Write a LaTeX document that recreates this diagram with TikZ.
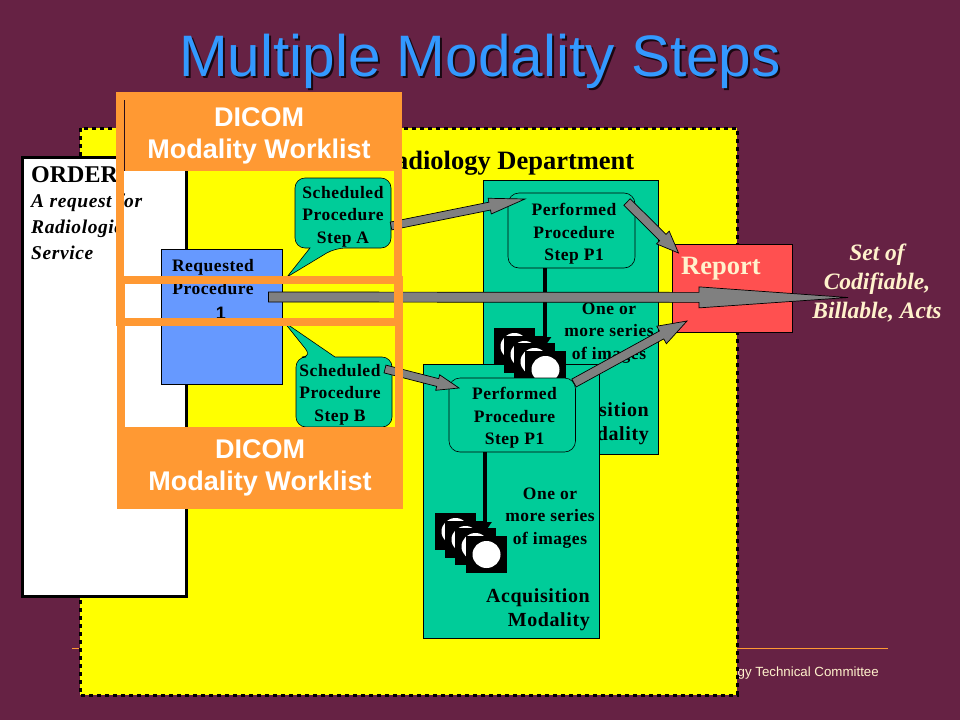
\documentclass[tikz,border=0pt]{standalone}
\usepackage{fontspec}
\setmainfont{Liberation Serif}
\newfontfamily\headfont{Liberation Sans}
\newfontfamily\labelfont[LetterSpace=3]{Liberation Serif}
\usepackage{xcolor}
\usepackage{tikz}
\usetikzlibrary{arrows.meta,calc}

\definecolor{slidebg}{HTML}{662244}
\definecolor{deptyellow}{HTML}{FFFF00}
\definecolor{worklistorange}{HTML}{FF9933}
\definecolor{stepgreen}{HTML}{00CC99}
\definecolor{procblue}{HTML}{6699FF}
\definecolor{reportred}{HTML}{FF5050}
\definecolor{titleblue}{HTML}{3399FF}
\definecolor{cream}{HTML}{FFF2CC}
\definecolor{arrowgray}{HTML}{808080}

\tikzset{
	modalitybox/.style={draw=black, fill=stepgreen, line width=.8pt},
	performedbox/.style={draw=black, fill=stepgreen, line width=.6pt, rounded corners=11pt},
	calloutbody/.style={draw=black, fill=stepgreen, line width=.6pt},
	flowshape/.style={draw=black, fill=arrowgray, line width=.7pt},
	serieslink/.style={draw=black, line width=4pt, -{Triangle[width=13pt,length=10pt]}},
	imagecard/.style={fill=black, inner sep=0pt, minimum width=41pt, minimum height=37.5pt},
	smalllabel/.style={font=\labelfont\bfseries\fontsize{17.5}{22.6}\selectfont, align=center},
	biglabel/.style={font=\labelfont\bfseries\fontsize{20}{24}\selectfont, align=right},
	worklistframe/.style={draw=worklistorange, line width=8pt},
	worklisthead/.style={text=white, inner sep=0pt, align=center, font=\headfont\bfseries\fontsize{27}{32}\selectfont}
}

% block arrow: start, tip, half shaft, head length, half head
\newcommand{\flowarrow}[5]{
	\draw[flowshape] ($(#1)!#3!90:(#2)$) -- ($(#2)!#4!(#1)!#3!90:(#2)$) -- ($(#2)!#4!(#1)!#5!90:(#2)$) -- (#2)
		-- ($(#2)!#4!(#1)!#5!-90:(#2)$) -- ($(#2)!#4!(#1)!#3!-90:(#2)$) -- ($(#1)!#3!-90:(#2)$) -- cycle;
}
% four overlapping image cards
\newcommand{\imagestack}[3]{
	\foreach \dx/\dy [count=\n] in {0/0,10/8,20/15,31/23}{
		\node[imagecard] (#1\n) at (#2+\dx,#3+\dy) {};
		\fill[white] (#1\n.center) ellipse (14pt and 13.5pt);
	}
}

\begin{document}
\begin{tikzpicture}[x=1pt, y=-1pt]
	\useasboundingbox (0,0) rectangle (960,720);
	\fill[slidebg] (0,0) rectangle (960,720);

	% title and footer
	\node[text=black!75!slidebg, font=\headfont\fontsize{58.5}{62}\selectfont] (titleshade) at (482,63) {Multiple Modality Steps};
	\node[text=titleblue, draw=none, font=\headfont\fontsize{58.5}{62}\selectfont] (title) at (480,61) {Multiple Modality Steps};
	\draw[worklistorange, line width=.8pt] (72,648.5) -- (888,648.5);
	\node[anchor=east, text=cream, inner sep=0pt, font=\headfont\fontsize{13.3}{16}\selectfont] (footer) at (879,673.5) {gy Technical Committee};

	% department
	\draw[fill=deptyellow, line width=3pt, dash pattern=on 4pt off 4pt] (80,128) rectangle (737,695);
	\node[anchor=east, inner sep=0pt, font=\bfseries\fontsize{26.5}{30}\selectfont] (radiology) at (634.5,163) {Radiology Department};

	% order
	\draw[fill=white, line width=3pt] (22,157) rectangle (186,596);
	\node[anchor=north west, inner sep=0pt, font=\bfseries\fontsize{24}{28}\selectfont] (order) at (31,166) {ORDER};
	\node[anchor=north west, inner sep=0pt, align=left, font=\labelfont\bfseries\itshape\fontsize{19.5}{26}\selectfont] (orderdesc) at (31,194) {A request for\\Radiologic\\Service};

	% requested procedure
	\draw[draw=black, fill=procblue, line width=.7pt] (161.5,249.5) rectangle (282.5,384.5);
	\node[smalllabel] (requested) at (213,289.5) {Requested\\Procedure\\[2.5pt]\hspace{16pt}{\headfont\fontsize{18}{22}\selectfont 1}};

	% scheduled steps
	\draw[calloutbody, rounded corners=10pt] (295,178) -- (391,178) -- (391,248) -- (335,248) [sharp corners] -- (287,277) -- (310,248) [rounded corners=10pt] -- (295,248) -- cycle;
	\node[smalllabel] (stepA) at (343,216.5) {Scheduled\\Procedure\\Step A};
	\draw[calloutbody, rounded corners=10pt] (296,357) -- (312,357) [sharp corners] -- (284,322) -- (335,357) [rounded corners=10pt] -- (392,357) -- (392,427) -- (296,427) -- cycle;
	\node[smalllabel] (stepB) at (340,394.5) {Scheduled\\Procedure\\Step B};

	% first modality
	\draw[modalitybox] (483,180.5) rectangle (658.5,454);
	\draw[performedbox] (508,193) rectangle (635,268);
	\node[smalllabel] (perfA) at (574,234) {Performed\\Procedure\\Step P1};
	\coordinate (linkAtop) at (544.5,268);
	\coordinate (linkAend) at (544.5,347);
	\draw[serieslink] (linkAtop) -- (linkAend);
	\node[smalllabel] (seriesA) at (609,333) {One or\\more series\\of images};
	\node[biglabel, anchor=south east, inner sep=0pt] (acqA) at (649,445) {Acquisition\\Modality};

	% second modality
	\draw[modalitybox] (423.5,364.5) rectangle (599,638);
	\imagestack{cardA}{514.5}{346.5}
	\draw[performedbox] (449,378) rectangle (575.5,452);
	\node[smalllabel] (perfB) at (514.5,418) {Performed\\Procedure\\Step P1};
	\coordinate (linkBtop) at (485,452);
	\coordinate (linkBend) at (485,532);
	\draw[serieslink] (linkBtop) -- (linkBend);
	\imagestack{cardB}{455.5}{531.5}
	\node[smalllabel] (seriesB) at (550,518) {One or\\more series\\of images};
	\node[biglabel, anchor=south east, inner sep=0pt] (acqB) at (590,631) {Acquisition\\Modality};

	% report
	\draw[draw=black, fill=reportred, line width=.7pt] (672.5,244.5) rectangle (792,332);
	\node[anchor=west, inner sep=0pt, text=cream, font=\bfseries\fontsize{26.5}{30}\selectfont] (report) at (681,269) {Report};
	\node[text=cream, align=center, font=\bfseries\itshape\fontsize{23.5}{29}\selectfont] (acts) at (877,283) {Set of\\Codifiable,\\Billable, Acts};

	% flow arrows
	\coordinate (flowAstart) at (391,226);
	\coordinate (flowAtip) at (525,199);
	\coordinate (flowBstart) at (385,369);
	\coordinate (flowBtip) at (459,388);
	\coordinate (flowCstart) at (627,202);
	\coordinate (flowCtip) at (678.5,253);
	\coordinate (flowDstart) at (574,383);
	\coordinate (flowDtip) at (687,321);
	\coordinate (flowMainstart) at (268.5,297);
	\coordinate (flowMaintip) at (848,297.5);
	\flowarrow{flowAstart}{flowAtip}{4pt}{36pt}{8pt}
	\flowarrow{flowBstart}{flowBtip}{4pt}{22pt}{8pt}
	\flowarrow{flowCstart}{flowCtip}{4.5pt}{22pt}{9pt}
	\flowarrow{flowDstart}{flowDtip}{4.5pt}{29pt}{10pt}
	\flowarrow{flowMainstart}{flowMaintip}{5pt}{149pt}{10.5pt}

	% worklist frames
	\draw[worklistframe] (120,96) rectangle (398,322);
	\draw[worklistframe] (121,280) rectangle (399,505);
	\fill[worklistorange] (116,92) rectangle (402,171);
	\fill[worklistorange] (117,427) rectangle (403,509);
	\node[worklisthead] (worklistA) at (259,135.5) {DICOM\\Modality Worklist};
	\node[worklisthead] (worklistB) at (260,468) {DICOM\\Modality Worklist};
	\draw[black!60!slidebg, line width=.7pt] (124.5,100) -- (124.5,171);
\end{tikzpicture}
\end{document}
